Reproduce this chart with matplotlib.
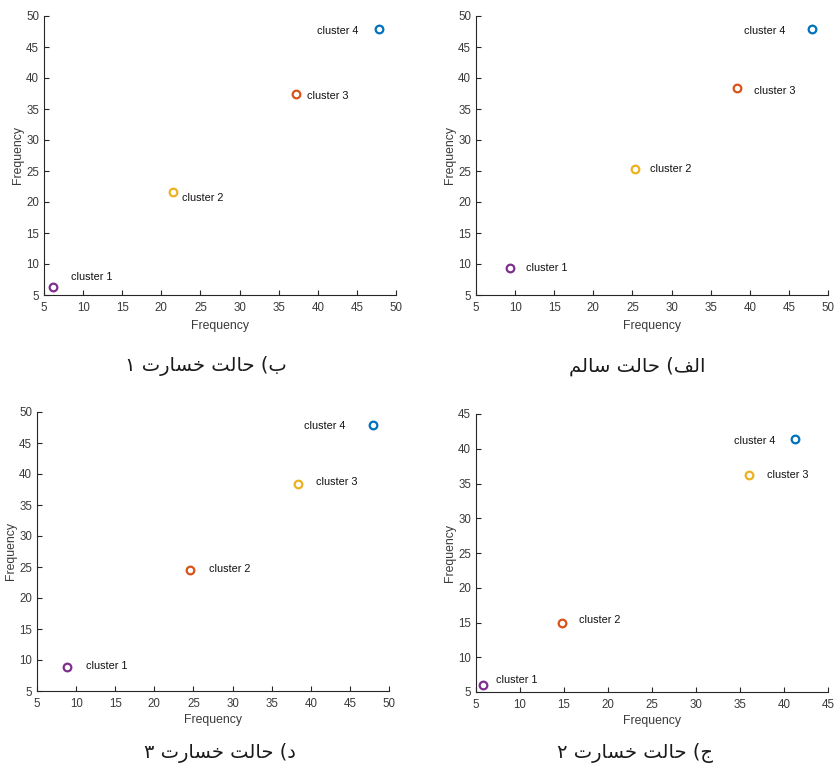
import matplotlib
matplotlib.use("Agg")
import matplotlib.pyplot as plt

# cluster centres for each case (x, y)
labels = ["cluster 1", "cluster 2", "cluster 3", "cluster 4"]

healthy_x = [9.3, 25.3, 38.35, 47.9]
healthy_y = [9.4, 25.35, 38.45, 47.95]

damage1_x = [6.15, 21.5, 37.25, 47.8]
damage1_y = [6.25, 21.6, 37.35, 47.9]

damage2_x = [5.8, 14.8, 36.05, 41.25]
damage2_y = [5.95, 14.95, 36.2, 41.35]

damage3_x = [8.85, 24.5, 38.35, 47.95]
damage3_y = [8.9, 24.5, 38.4, 47.95]

captions = ["الف) حالت سالم", "ب) حالت خسارت ۱", "ج) حالت خسارت ۲", "د) حالت خسارت ۳"]

# MATLAB default colour order
blue, orange, yellow, purple = "#0072BD", "#D95319", "#EDB120", "#7E2F8E"

# Arabic contextual forms: isolated, final, initial, medial
FORMS = {
    "ا": (0xFE8D, 0xFE8E, None, None),
    "ب": (0xFE8F, 0xFE90, 0xFE91, 0xFE92),
    "ت": (0xFE95, 0xFE96, 0xFE97, 0xFE98),
    "ج": (0xFE9D, 0xFE9E, 0xFE9F, 0xFEA0),
    "ح": (0xFEA1, 0xFEA2, 0xFEA3, 0xFEA4),
    "خ": (0xFEA5, 0xFEA6, 0xFEA7, 0xFEA8),
    "د": (0xFEA9, 0xFEAA, None, None),
    "ر": (0xFEAD, 0xFEAE, None, None),
    "س": (0xFEB1, 0xFEB2, 0xFEB3, 0xFEB4),
    "ف": (0xFED1, 0xFED2, 0xFED3, 0xFED4),
    "ل": (0xFEDD, 0xFEDE, 0xFEDF, 0xFEE0),
    "م": (0xFEE1, 0xFEE2, 0xFEE3, 0xFEE4),
}
RIGHT_ONLY = set("ادر")
MIRROR = {"(": ")", ")": "("}


def rtl(text):
    out = []
    for i, ch in enumerate(text):
        if ch not in FORMS:
            out.append(MIRROR.get(ch, ch))
            continue
        prev = text[i - 1] if i > 0 else None
        nxt = text[i + 1] if i + 1 < len(text) else None
        jp = prev in FORMS and prev not in RIGHT_ONLY
        jn = ch not in RIGHT_ONLY and nxt in FORMS
        iso, fin, ini, med = FORMS[ch]
        if jp and jn:
            g = med
        elif jp:
            g = fin
        elif jn:
            g = ini
        else:
            g = iso
        out.append(chr(g))
    return "".join(reversed(out))


plt.rcParams["font.family"] = ["Liberation Sans", "DejaVu Sans"]
ink = "#262626"
tick_ink = "#3a3a3a"

fig = plt.figure(figsize=(8.34, 7.71), dpi=100)
W, H = 834.0, 771.0


def panel(x0, x1, y0, y1, xs, ys, colors, offsets, xmax, ymax, xlab_pad):
    ax = fig.add_axes([x0 / W, 1 - y1 / H, (x1 - x0) / W, (y1 - y0) / H])
    for x, y, c, lab, (dx, dy, ha) in zip(xs, ys, colors, labels, offsets):
        ax.plot(x, y, "o", mfc="none", mec=c, mew=1.6, ms=5.5)
        ax.annotate(lab, (x, y), xytext=(dx, dy), textcoords="offset pixels",
                    ha=ha, va="center", fontsize=7.8, color="#111111")
    ax.set_xlim(5, xmax)
    ax.set_ylim(5, ymax)
    ax.set_xticks(range(5, xmax + 1, 5))
    ax.set_yticks(range(5, ymax + 1, 5))
    for s in ["top", "right"]:
        ax.spines[s].set_visible(False)
    for s in ["left", "bottom"]:
        ax.spines[s].set_color(ink)
        ax.spines[s].set_linewidth(0.8)
    ax.tick_params(direction="in", length=3.5, width=0.8, colors=ink,
                   labelcolor=tick_ink, labelsize=8.3)
    ax.tick_params(axis="x", pad=5)
    ax.tick_params(axis="y", pad=3.5)
    ax.set_xlabel("Frequency", fontsize=8.8, color=tick_ink, labelpad=xlab_pad)
    ax.set_ylabel("Frequency", fontsize=8.8, color=tick_ink)
    ax.yaxis.set_label_coords(-0.058, 0.5)
    return ax


panel(476, 828, 16, 295, healthy_x, healthy_y, [purple, yellow, orange, blue],
      [(16, 0, "left"), (15, 0, "left"), (17, -3, "left"), (-26, -2, "right")],
      50, 50, 4)
panel(44, 396, 16, 295, damage1_x, damage1_y, [purple, yellow, orange, blue],
      [(18, 10, "left"), (9, -6, "left"), (11, -2, "left"), (-20, -2, "right")],
      50, 50, 4)
panel(476, 828, 414, 692, damage2_x, damage2_y, [purple, orange, yellow, blue],
      [(13, 5, "left"), (17, 3, "left"), (18, 0, "left"), (-20, -2, "right")],
      45, 45, 3)
panel(37, 389, 412, 691, damage3_x, damage3_y, [purple, orange, yellow, blue],
      [(19, 1, "left"), (19, 1, "left"), (18, 2, "left"), (-28, -1, "right")],
      50, 50, 3)

cap_pos = [(637, 366), (206, 366), (635, 753), (220, 753)]
for text, (cx, cy) in zip(captions, cap_pos):
    fig.text(cx / W, 1 - cy / H, rtl(text), ha="center", va="center",
             fontsize=14, family="DejaVu Sans", color="#1a1a1a")

fig.savefig("out.png", dpi=100, facecolor="white")
